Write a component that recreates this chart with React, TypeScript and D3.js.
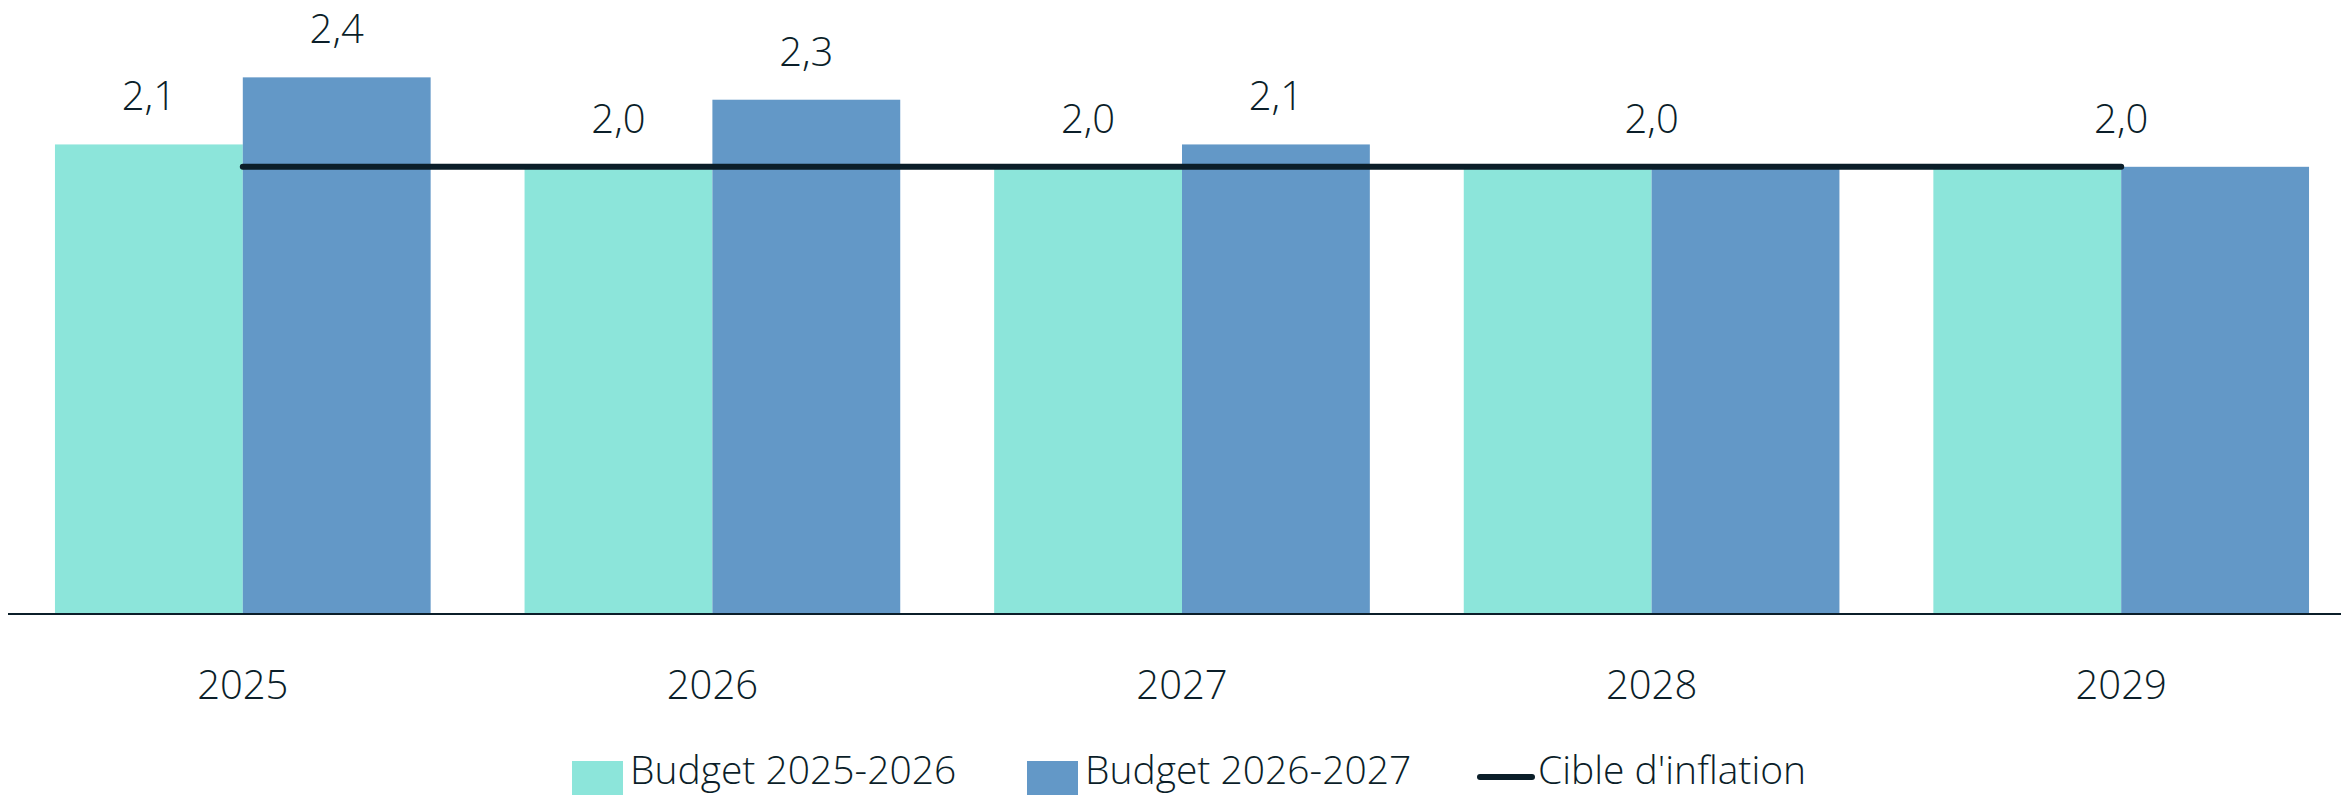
import React, { useEffect, useRef } from "react";
import * as d3 from "d3";

const years = ["2025", "2026", "2027", "2028", "2029"];
const budget2025 = [2.1, 2.0, 2.0, 2.0, 2.0];
const budget2026 = [2.4, 2.3, 2.1, 2.0, 2.0];
const inflationTarget = [2.0, 2.0, 2.0, 2.0, 2.0];
const seriesNames = ["Budget 2025-2026", "Budget 2026-2027"];
const targetName = "Cible d'inflation";

const TEAL = "#8ce5da";
const BLUE = "#6398c7";
const INK = "#0b1e29";
const FONT = "'Open Sans', 'Noto Sans', sans-serif";

const fmt = (v: number) => v.toFixed(1).replace(".", ",");

export default function App() {
  const ref = useRef<SVGSVGElement | null>(null);

  useEffect(() => {
    if (!ref.current) return;
    const svg = d3.select(ref.current);
    svg.selectAll("*").remove();

    const x = d3.scaleBand<string>().domain(years).range([8, 2356]).paddingInner(0.2).paddingOuter(0.1);
    const xSub = d3.scaleBand<string>().domain(["a", "b"]).range([0, x.bandwidth()]);
    const y = d3.scaleLinear().domain([0, 2.5]).range([614, 55]);

    const rows = years.map((yr, i) => ({ yr, a: budget2025[i], b: budget2026[i], t: inflationTarget[i] }));

    // bars
    const g = svg.append("g");
    g.selectAll("rect.a")
      .data(rows)
      .enter()
      .append("rect")
      .attr("x", (d) => x(d.yr)! + xSub("a")!)
      .attr("y", (d) => y(d.a))
      .attr("width", xSub.bandwidth())
      .attr("height", (d) => y(0) - y(d.a))
      .attr("fill", TEAL);
    g.selectAll("rect.b")
      .data(rows)
      .enter()
      .append("rect")
      .attr("x", (d) => x(d.yr)! + xSub("b")!)
      .attr("y", (d) => y(d.b))
      .attr("width", xSub.bandwidth())
      .attr("height", (d) => y(0) - y(d.b))
      .attr("fill", BLUE);

    // axis baseline
    svg.append("line")
      .attr("x1", 8).attr("x2", 2341)
      .attr("y1", y(0)).attr("y2", y(0))
      .attr("stroke", INK).attr("stroke-width", 2);

    // inflation target line
    const line = d3.line<{ yr: string; t: number }>()
      .x((d) => x(d.yr)! + x.bandwidth() / 2)
      .y((d) => y(d.t));
    svg.append("path")
      .datum(rows)
      .attr("d", line)
      .attr("fill", "none")
      .attr("stroke", INK)
      .attr("stroke-width", 6)
      .attr("stroke-linecap", "round");

    // value labels (one centred label when both bars are equal)
    const labels: { x: number; v: number }[] = [];
    rows.forEach((d) => {
      if (d.a === d.b) {
        labels.push({ x: x(d.yr)! + x.bandwidth() / 2, v: d.a });
      } else {
        labels.push({ x: x(d.yr)! + xSub("a")! + xSub.bandwidth() / 2, v: d.a });
        labels.push({ x: x(d.yr)! + xSub("b")! + xSub.bandwidth() / 2, v: d.b });
      }
    });
    svg.append("g")
      .selectAll("text")
      .data(labels)
      .enter()
      .append("text")
      .attr("x", (d) => d.x)
      .attr("y", (d) => y(d.v) - 34)
      .attr("text-anchor", "middle")
      .attr("font-family", FONT)
      .attr("font-weight", 300)
      .attr("font-size", 40)
      .attr("fill", INK)
      .text((d) => fmt(d.v));

    // category labels
    svg.append("g")
      .selectAll("text")
      .data(years)
      .enter()
      .append("text")
      .attr("x", (d) => x(d)! + x.bandwidth() / 2)
      .attr("y", 699)
      .attr("text-anchor", "middle")
      .attr("font-family", FONT)
      .attr("font-weight", 300)
      .attr("font-size", 40)
      .attr("fill", INK)
      .text((d) => d);

    // legend
    const leg = svg.append("g").attr("font-family", FONT).attr("font-weight", 300).attr("font-size", 39).attr("fill", INK);
    const items = [
      { name: seriesNames[0], kind: "rect", color: TEAL, x: 572 },
      { name: seriesNames[1], kind: "rect", color: BLUE, x: 1027 },
      { name: targetName, kind: "line", color: INK, x: 1480 },
    ];
    items.forEach((it) => {
      if (it.kind === "rect") {
        leg.append("rect").attr("x", it.x).attr("y", 761).attr("width", 51).attr("height", 51).attr("fill", it.color);
      } else {
        leg.append("line")
          .attr("x1", it.x).attr("x2", it.x + 52)
          .attr("y1", 777).attr("y2", 777)
          .attr("stroke", it.color).attr("stroke-width", 6).attr("stroke-linecap", "round");
      }
      leg.append("text").attr("x", it.x + 58).attr("y", 784).text(it.name);
    });
  }, []);

  return (
    <div style={{ position: "absolute", left: 0, top: 0, width: 2341, height: 795, overflow: "hidden", background: "#fff" }}>
      <svg ref={ref} width={2341} height={795} style={{ display: "block" }} />
    </div>
  );
}
